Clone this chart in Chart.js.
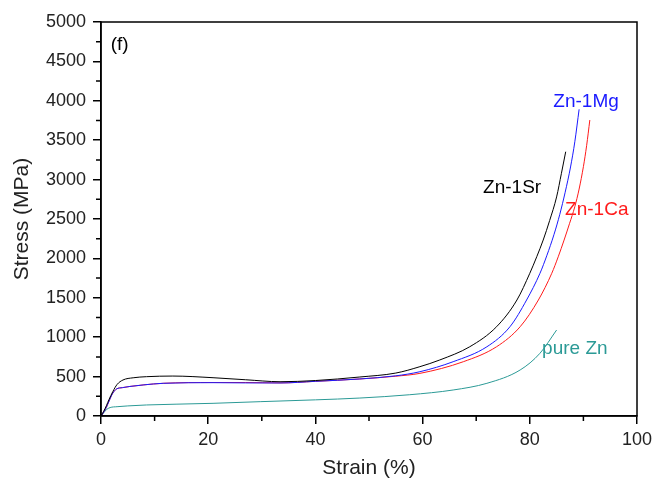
<!DOCTYPE html>
<html>
<head>
<meta charset="utf-8">
<script src="https://cdn.jsdelivr.net/npm/chart.js@4/dist/chart.umd.min.js"></script>
<style>
html,body{margin:0;padding:0;background:#fff;}
#wrap{width:652px;height:481px;}
</style>
</head>
<body>
<div id="wrap"><canvas id="c" width="652" height="481"></canvas></div>
<script>
// ---- data ----
const strainSr = [0, 0.5, 1, 1.5, 2.2, 3, 4.1, 6, 8.5, 13.4, 20.9, 27, 33.4, 40, 48.3, 55, 59.5, 63.2, 68.8, 73.8, 77.6, 80, 81.3, 82.5, 83.7, 85.0, 85.9, 86.7];
const stressSr = [0, 60, 130, 210, 309, 400, 457, 485, 499, 507, 486, 460, 435, 450, 495, 545, 626, 711, 879, 1133, 1472, 1811, 2022, 2233, 2480, 2780, 3080, 3354];

const strainMg = [0, 0.5, 1, 1.5, 2.2, 2.9, 4, 5.4, 8, 11.6, 20.9, 27, 33.4, 40, 48.3, 55, 59.5, 65.7, 72, 76.3, 79.4, 81.9, 83.2, 84.5, 85.6, 86.6, 87.6, 88.4, 89.2];
const stressMg = [0, 50, 110, 190, 290, 343, 360, 375, 395, 415, 423, 420, 419, 440, 470, 510, 562, 689, 879, 1133, 1472, 1811, 2040, 2300, 2560, 2840, 3160, 3480, 3892];

const strainCa = [0, 0.5, 1, 1.5, 2.2, 2.9, 4, 5.4, 8, 11.6, 20.9, 27, 33.4, 40, 48.3, 55, 59.5, 67.6, 73.8, 78.2, 81.6, 84.1, 85.3, 86.4, 87.4, 88.4, 89.2, 90.0, 90.6, 91.2];
const stressCa = [0, 50, 110, 190, 290, 343, 360, 375, 395, 415, 425, 425, 420, 440, 470, 505, 541, 689, 879, 1133, 1472, 1811, 2020, 2233, 2440, 2656, 2880, 3164, 3430, 3756];

const strainZn = [0, 0.5, 1, 1.7, 3, 5, 8.5, 14, 20.9, 29.7, 33.4, 40, 48.3, 57.6, 65.7, 72, 78.2, 81.9, 85.0];
const stressZn = [0, 40, 80, 107, 118, 128, 140, 150, 161, 182, 190, 205, 228, 270, 330, 415, 584, 796, 1091];

const seriesNames = ['Zn-1Sr', 'Zn-1Mg', 'Zn-1Ca', 'pure Zn'];
const xTicks = [0, 20, 40, 60, 80, 100];
const yTicks = [0, 500, 1000, 1500, 2000, 2500, 3000, 3500, 4000, 4500, 5000];

function pts(xs, ys){ return xs.map((x,i)=>({x:x, y:ys[i]})); }

const colors = ['#000000', '#1a1aff', '#ff1a1a', '#2b9a96'];
const FAM = '"Liberation Sans", Arial, sans-serif';

const frame = {
  id:'frame',
  afterDraw(chart){
    const {ctx, chartArea:a, scales:{x, y}} = chart;
    ctx.save();
    ctx.strokeStyle = '#000';
    ctx.lineWidth = 1.5;
    ctx.strokeRect(a.left, a.top, a.right - a.left, a.bottom - a.top);
    // minor ticks
    ctx.beginPath();
    for (let v = 10; v < 100; v += 20){
      const px = x.getPixelForValue(v);
      ctx.moveTo(px, a.bottom); ctx.lineTo(px, a.bottom + 5);
    }
    for (let v = 250; v < 5000; v += 500){
      const py = y.getPixelForValue(v);
      ctx.moveTo(a.left, py); ctx.lineTo(a.left - 5, py);
    }
    ctx.stroke();
    // annotations
    ctx.font = '19px ' + FAM;
    ctx.textBaseline = 'middle';
    ctx.textAlign = 'left';
    ctx.fillStyle = '#000';
    ctx.fillText('(f)', x.getPixelForValue(1.8), y.getPixelForValue(4710));
    ctx.textAlign = 'center';
    const labs = [
      [seriesNames[1], 90.5, 3985, '#1a1aff'],
      [seriesNames[0], 76.7, 2893, '#000000'],
      [seriesNames[2], 92.5, 2614, '#ff1a1a'],
      [seriesNames[3], 88.4, 850, '#2b9a96']
    ];
    for (const [t, vx, vy, c] of labs){
      ctx.fillStyle = c;
      ctx.fillText(t, x.getPixelForValue(vx), y.getPixelForValue(vy));
    }
    ctx.restore();
  }
};

const ds = [[strainSr, stressSr], [strainMg, stressMg], [strainCa, stressCa], [strainZn, stressZn]].map((d,i)=>({
  label: seriesNames[i],
  data: pts(d[0], d[1]),
  borderColor: colors[i],
  borderWidth: 1,
  pointRadius: 0,
  fill: false,
  cubicInterpolationMode: 'monotone'
}));

const font = {family:FAM, size:18};

new Chart(document.getElementById('c'), {
  type:'line',
  data:{datasets: ds},
  options:{
    responsive:false,
    animation:false,
    events:[],
    layout:{padding:{top:22, right:15, left:0, bottom:0}},
    plugins:{legend:{display:false}, tooltip:{enabled:false}},
    scales:{
      x:{
        type:'linear', min:0, max:100,
        afterBuildTicks(s){ s.ticks = xTicks.map(v=>({value:v})); },
        afterFit(s){ s.height = 65; s.paddingLeft = 0; s.paddingRight = 0; },
        grid:{drawOnChartArea:false, drawTicks:true, tickLength:8, color:'#000', lineWidth:1.5},
        border:{display:true, color:'#000', width:1.5},
        ticks:{font:font, color:'#222', padding:5, maxRotation:0, callback:v=>String(v)},
        title:{display:true, text:'Strain (%)', font:{family:FAM, size:21}, color:'#222', padding:{top:2, bottom:0}}
      },
      y:{
        type:'linear', min:0, max:5000,
        afterBuildTicks(s){ s.ticks = yTicks.map(v=>({value:v})); },
        afterFit(s){ s.width = 101; s.paddingTop = 0; s.paddingBottom = 0; },
        grid:{drawOnChartArea:false, drawTicks:true, tickLength:8, color:'#000', lineWidth:1.5},
        border:{display:true, color:'#000', width:1.5},
        ticks:{font:font, color:'#222', padding:7, callback:v=>String(v)},
        title:{display:true, text:'Stress (MPa)', font:{family:FAM, size:21}, color:'#222', padding:{top:10, bottom:2}}
      }
    }
  },
  plugins:[frame]
});
</script>
</body>
</html>
